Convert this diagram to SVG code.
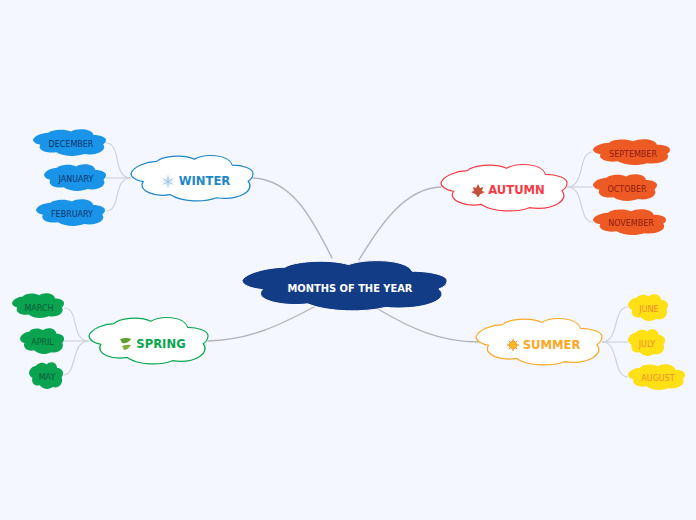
<svg xmlns="http://www.w3.org/2000/svg" width="696" height="520" viewBox="0 0 696 520">
<style>
text{font-family:"DejaVu Sans","Liberation Sans",sans-serif;text-anchor:middle}
.cl{vector-effect:non-scaling-stroke}
.lnk path{fill:none;stroke:#b4b4bc;stroke-width:1.4;stroke-linecap:round}
.sub path{fill:none;stroke:#d0d2da;stroke-width:1.2}
.b text,.root{font-weight:700}
.b text{font-size:11.6px}
.c text{font-size:8px}
.br{fill:#fff;stroke-width:1.2}
.win{fill:#1a94e8}.spr{fill:#0aa34f}.aut{fill:#ee5a24}.sum{fill:#ffe014}
</style>
<defs>
<path id="cloud" class="cl" d="M0,40C2,25 12,15 21,14C25,3 42,-3 52,9C60,-3 80,-3 83,22C92,22 100,30 100,40C100,48 99,52 96,57C102,75 90,100 70,93C60,103 42,103 32,86C20,92 5,78 10,58C4,56 0,48 0,40Z"/>
</defs>
<rect width="696" height="520" fill="#f4f7ff"/>
<g id="connectors">
<g class="lnk">
<path d="M332,258C312,218 292,180 253,178"/>
<path d="M359,260C380,225 405,188 441,187"/>
<path d="M378,309C410,328 440,342 478,342"/>
<path d="M316,306C280,325 250,340 208,341"/>
</g>
<g class="sub">
<path d="M131,178C112,178 122,143 106,143"/>
<path d="M131,178H106"/>
<path d="M131,178C112,178 122,211 106,211"/>
<path d="M89,341C70,341 80,308 64,308"/>
<path d="M89,341H64"/>
<path d="M89,341C70,341 78,375 63,375"/>
<path d="M567,187C586,187 577,152 593,152"/>
<path d="M567,187H593"/>
<path d="M567,187C586,187 577,222 593,222"/>
<path d="M602,342C620,342 612,307 628,307"/>
<path d="M602,342H628"/>
<path d="M602,342C620,342 612,377 628,377"/>
</g>
</g>
<g id="root">
<use href="#cloud" transform="translate(242 260) scale(2.05 .51)" fill="#133c87" stroke="#fff" stroke-width="1"/>
<text class="root" x="350" y="292" font-size="9.900" fill="#fff">MONTHS OF THE YEAR</text>
</g>
<g id="winter" class="b">
<use href="#cloud" class="br" transform="translate(131 155) scale(1.22 .46)" stroke="#1f86c8"/>
<circle cx="168" cy="181.500" r="3.500" fill="#dbe9f7"/>
<g stroke="#9cc3e6" stroke-width="1" fill="none"><path d="M168,175.500V187.500M162.800,178.500L173.200,184.500M162.800,184.500L173.200,178.500"/></g>
<text x="204.500" y="185" fill="#1f86c8">WINTER</text>
</g>
<g id="spring" class="b">
<use href="#cloud" class="br" transform="translate(89 317) scale(1.19 .47)" stroke="#0aa64e"/>
<path d="M120,339Q127,337 131,339Q128,344 122,343Z" fill="#5f9e2a"/>
<path d="M122,346Q127,344 131,345Q128,350 124,350Z" fill="#7fb03a"/>
<text x="161" y="348" fill="#0aa64e">SPRING</text>
</g>
<g id="autumn" class="b">
<use href="#cloud" class="br" transform="translate(441 164) scale(1.26 .47)" stroke="#f53b45"/>
<path d="M478,184L480,188L483,187L482,191L485,192L480,194.500L478.500,197L477.500,197L476,194.500L471,192L474,191L473,187L476,188Z" fill="#c2503a"/>
<text x="516.500" y="194" fill="#f53b45">AUTUMN</text>
</g>
<g id="summer" class="b">
<use href="#cloud" class="br" transform="translate(476 318) scale(1.26 .47)" stroke="#f9a825"/>
<path d="M513,339V351M507,345H519M508.800,340.800L517.200,349.200M508.800,349.200L517.200,340.800" stroke="#e07a20" stroke-width="1"/>
<circle cx="513" cy="345" r="3.800" fill="#fbb81f" stroke="#e8891c" stroke-width=".6"/>
<text x="551.500" y="349" fill="#f9a825">SUMMER</text>
</g>
<g id="december" class="c"><use href="#cloud" class="win" transform="translate(33 129) scale(.73 .27)"/><text x="71" y="147" fill="#0b3468">DECEMBER</text></g>
<g id="january" class="c"><use href="#cloud" class="win" transform="translate(44 164) scale(.62 .27)"/><text x="76" y="182" fill="#0b3468">JANUARY</text></g>
<g id="february" class="c"><use href="#cloud" class="win" transform="translate(36 199) scale(.69 .27)"/><text x="72" y="217" fill="#0b3468">FEBRUARY</text></g>
<g id="march" class="c"><use href="#cloud" class="spr" transform="translate(12 293) scale(.52 .25)"/><text x="39" y="311" fill="#0b5a38">MARCH</text></g>
<g id="april" class="c"><use href="#cloud" class="spr" transform="translate(20 328) scale(.44 .26)"/><text x="42.500" y="345" fill="#0b5a38">APRIL</text></g>
<g id="may" class="c"><use href="#cloud" class="spr" transform="translate(29 362) scale(.34 .27)"/><text x="47" y="380" fill="#0b5a38">MAY</text></g>
<g id="september" class="c"><use href="#cloud" class="aut" transform="translate(593 139) scale(.77 .26)"/><text x="633" y="157" fill="#8e1c10">SEPTEMBER</text></g>
<g id="october" class="c"><use href="#cloud" class="aut" transform="translate(593 174) scale(.64 .27)"/><text x="627" y="192" fill="#8e1c10">OCTOBER</text></g>
<g id="november" class="c"><use href="#cloud" class="aut" transform="translate(593 209) scale(.73 .26)"/><text x="631" y="226" fill="#8e1c10">NOVEMBER</text></g>
<g id="june" class="c"><use href="#cloud" class="sum" transform="translate(628 294) scale(.4 .27)"/><text x="649" y="312" fill="#f28a30">JUNE</text></g>
<g id="july" class="c"><use href="#cloud" class="sum" transform="translate(628 329) scale(.37 .27)"/><text x="647" y="347" fill="#f28a30">JULY</text></g>
<g id="august" class="c"><use href="#cloud" class="sum" transform="translate(628 364) scale(.57 .26)"/><text x="658" y="381" fill="#f28a30">AUGUST</text></g>
</svg>
